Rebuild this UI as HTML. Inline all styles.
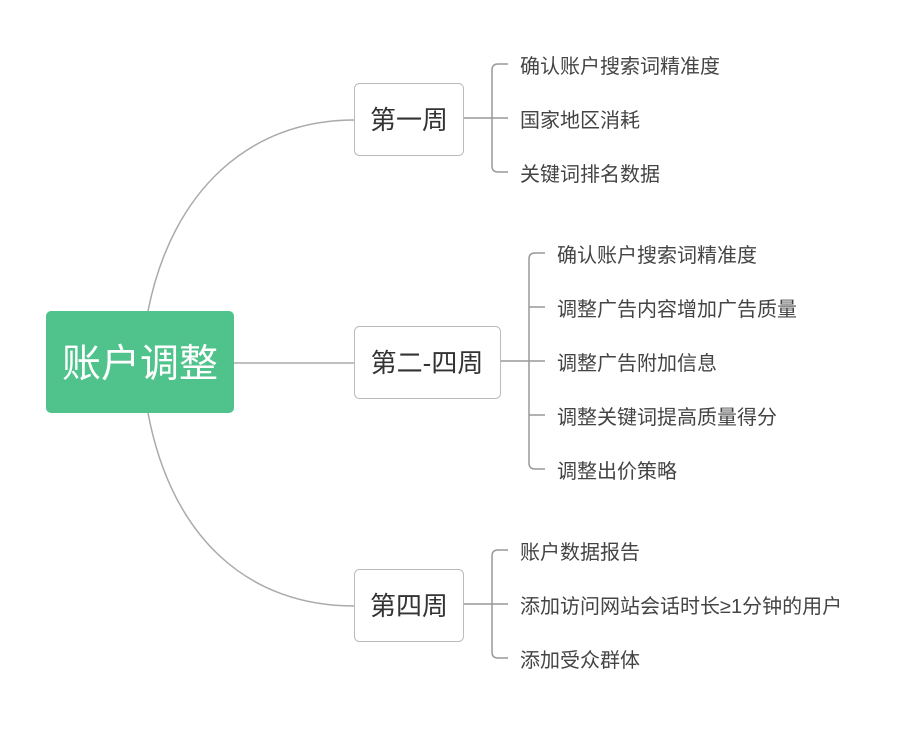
<!DOCTYPE html><html><head><meta charset="utf-8"><style>body{margin:0;background:#fff}svg{display:block}text{font-family:"Liberation Sans","Noto Sans CJK SC",sans-serif}</style></head><body>
<svg width="909" height="730" xmlns="http://www.w3.org/2000/svg">
<g fill="none" stroke="#aaa" stroke-width="1.5">
<path d="M148,311 C172,190 250,120 354,120"/>
<path d="M148,413 C172,540 250,606 354,606"/>
<path d="M234,363 H354"/>
</g>
<rect x="46" y="311" width="188" height="102" rx="5" fill="#50c38c"/>
<text x="140" y="377" font-size="39" fill="#fff" text-anchor="middle">账户调整</text>
<g fill="#fff" stroke="#bbb" stroke-width="1">
<rect x="354.5" y="83.5" width="109" height="72" rx="5"/>
<rect x="354.5" y="326.5" width="146" height="72" rx="5"/>
<rect x="354.5" y="569.5" width="109" height="72" rx="5"/>
</g>
<g font-size="26" fill="#333" text-anchor="middle">
<text x="409" y="129">第一周</text>
<text x="427" y="372">第二-四周</text>
<text x="409" y="615">第四周</text>
</g>
<g fill="none" stroke="#999" stroke-width="1.5">
<path d="M464,118 H508 M508,64 H498 Q492,64 492,70 V166 Q492,172 498,172 H508"/>
<path d="M501,361 H545 M545,253 H535 Q529,253 529,259 V463 Q529,469 535,469 H545 M529,307 H545 M529,415 H545"/>
<path d="M464,604 H508 M508,550 H498 Q492,550 492,556 V652 Q492,658 498,658 H508"/>
</g>
<g font-size="20" fill="#444">
<text x="520" y="73">确认账户搜索词精准度</text>
<text x="520" y="127">国家地区消耗</text>
<text x="520" y="181">关键词排名数据</text>
<text x="557" y="262">确认账户搜索词精准度</text>
<text x="557" y="316">调整广告内容增加广告质量</text>
<text x="557" y="370">调整广告附加信息</text>
<text x="557" y="424">调整关键词提高质量得分</text>
<text x="557" y="478">调整出价策略</text>
<text x="520" y="559">账户数据报告</text>
<text x="520" y="613">添加访问网站会话时长≥1分钟的用户</text>
<text x="520" y="667">添加受众群体</text>
</g>
</svg></body></html>
